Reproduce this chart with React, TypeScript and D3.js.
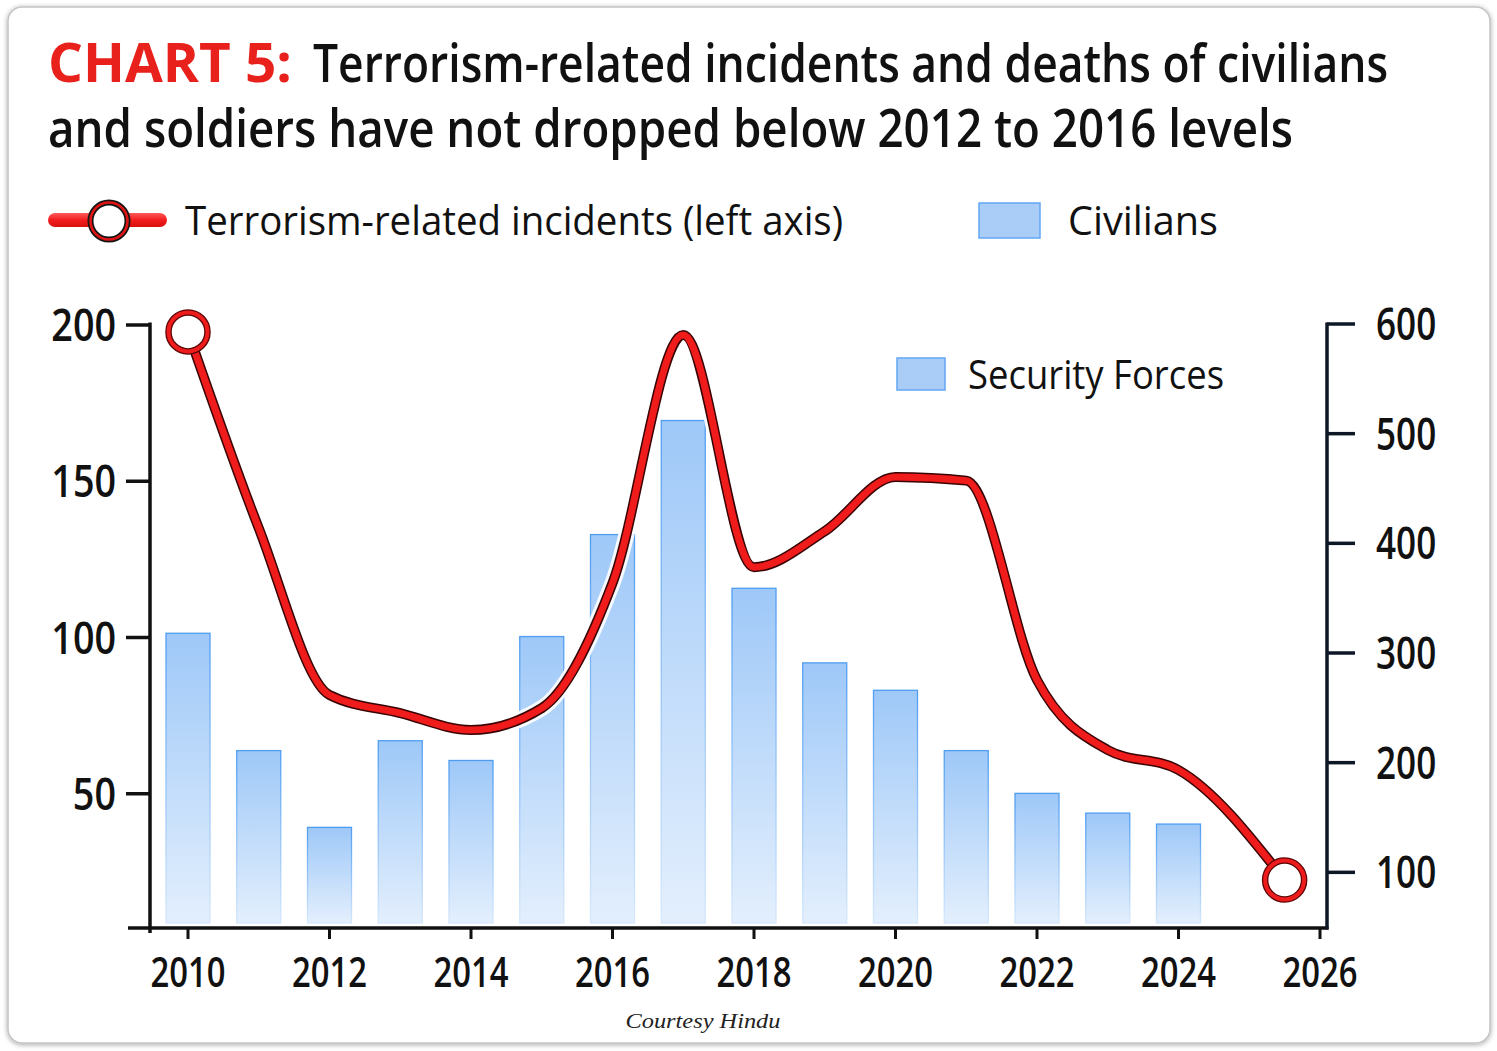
import React, { useEffect } from 'react';
import * as d3 from 'd3';

// ---------- data ----------
const barYears = [2010, 2011, 2012, 2013, 2014, 2015, 2016, 2017, 2018, 2019, 2020, 2021, 2022, 2023, 2024];
const deaths = [318, 211, 141, 220, 202, 315, 408, 512, 359, 291, 266, 211, 172, 154, 144];
const lineYears = [2010, 2011, 2012, 2013, 2014, 2015, 2016, 2017, 2018, 2019, 2020, 2021, 2022, 2023, 2024, 2025.5];
const incidents = [197.8, 135, 81.6, 75.8, 70.4, 77.4, 117.4, 196.8, 122.5, 134, 151.4, 150.2, 86.4, 64, 57.6, 22.4];
const leftTicks = [50, 100, 150, 200];
const rightTicks = [100, 200, 300, 400, 500, 600];
const xTicks = [2010, 2012, 2014, 2016, 2018, 2020, 2022, 2024, 2026];

const titleLead = 'CHART 5:';
const titleRest1 = 'Terrorism-related incidents and deaths of civilians';
const titleLine2 = 'and soldiers have not dropped below 2012 to 2016 levels';
const legendLine = 'Terrorism-related incidents (left axis)';
const legendCiv = 'Civilians';
const legendSec = 'Security Forces';
const credit = 'Courtesy Hindu';

// ---------- layout ----------
const W = 1497;
const H = 1051;
const axisLeftX = 150;
const axisRightX = 1327;
const plotTop = 324;
const axisY = 928;
const barBottom = 923;
const barW = 44;
const FONT = '"Open Sans", "Noto Sans", sans-serif';

const x = d3.scaleLinear().domain([2010, 2026]).range([188, 1320]);
const yL = d3.scaleLinear().domain([0, 200]).range([950, 325]);
const yR = d3.scaleLinear().domain([0, 600]).range([982, 324]);

const CText = ({ x, y, anchor = 'start', size, sx = 1, weight = 500, fill = '#111', children }: any) => (
  <text
    transform={`translate(${x},${y}) scale(${sx},1)`}
    textAnchor={anchor}
    fontSize={size}
    fontWeight={weight}
    fill={fill}
    fontFamily={FONT}
  >
    {children}
  </text>
);

export default function App() {
  useEffect(() => {
    document.body.style.margin = '0';
  }, []);

  const pts = lineYears.map((yr, i) => [x(yr), yL(incidents[i])] as [number, number]);
  const lineGen = d3.line().curve(d3.curveMonotoneX);
  const d = lineGen(pts) || '';
  const first = pts[0];
  const last = pts[pts.length - 1];

  return (
    <svg width={W} height={H} style={{ position: 'absolute', left: 0, top: 0, display: 'block' }}>
      <defs>
        <linearGradient id="barFill" x1="0" y1="0" x2="0" y2="1">
          <stop offset="0%" stopColor="#9ec8f8" />
          <stop offset="100%" stopColor="#e3effd" />
        </linearGradient>
        <linearGradient id="barStroke" x1="0" y1="0" x2="0" y2="1">
          <stop offset="0%" stopColor="#4f9df1" />
          <stop offset="100%" stopColor="#d6e8fc" />
        </linearGradient>
        <linearGradient id="legRed" x1="0" y1="0" x2="0" y2="1">
          <stop offset="0%" stopColor="#ff5a5a" />
          <stop offset="50%" stopColor="#f21d1d" />
          <stop offset="100%" stopColor="#d81010" />
        </linearGradient>
        <filter id="shadow" x="-5%" y="-5%" width="110%" height="110%">
          <feDropShadow dx="0" dy="1" stdDeviation="2.5" floodColor="#000" floodOpacity="0.35" />
        </filter>
      </defs>

      <rect x={0} y={0} width={W} height={H} fill="#fff" />
      <rect x={8} y={7} width={1482} height={1036} rx={14} fill="#fff" stroke="#c4c4c4" strokeWidth={1.5} filter="url(#shadow)" />

      {/* title */}
      <text x={48} y={82} fontSize={53} fontWeight={700} fill="#e8211d" fontFamily={FONT} textLength={244} lengthAdjust="spacingAndGlyphs">
        {titleLead}
      </text>
      <text x={313} y={82} fontSize={53} fontWeight={600} fill="#111" fontFamily={FONT} textLength={1075} lengthAdjust="spacingAndGlyphs">
        {titleRest1}
      </text>
      <text x={48} y={147} fontSize={53} fontWeight={600} fill="#111" fontFamily={FONT} textLength={1245} lengthAdjust="spacingAndGlyphs">
        {titleLine2}
      </text>

      {/* legend: line */}
      <rect x={48} y={213} width={119} height={14} rx={7} fill="url(#legRed)" />
      <circle cx={109} cy={221} r={18.5} fill="#fff" stroke="#151515" strokeWidth={6} />
      <circle cx={109} cy={221} r={18.5} fill="none" stroke="#e01414" strokeWidth={2.6} />
      <text x={185} y={235} fontSize={41} fontWeight={500} fill="#111" fontFamily={FONT} textLength={658} lengthAdjust="spacingAndGlyphs">
        {legendLine}
      </text>

      {/* legend: civilians */}
      <rect x={979} y={203} width={61} height={35} fill="#aacdf8" stroke="#62a6f2" strokeWidth={1.5} />
      <text x={1068} y={235} fontSize={41} fontWeight={500} fill="#111" fontFamily={FONT} textLength={150} lengthAdjust="spacingAndGlyphs">
        {legendCiv}
      </text>

      {/* legend: security forces */}
      <rect x={897} y={358} width={48} height={32} fill="#aacdf8" stroke="#62a6f2" strokeWidth={1.5} />
      <text x={968} y={389} fontSize={41} fontWeight={500} fill="#111" fontFamily={FONT} textLength={256} lengthAdjust="spacingAndGlyphs">
        {legendSec}
      </text>

      {/* bars */}
      {barYears.map((yr, i) => {
        const top = yR(deaths[i]);
        return (
          <rect
            key={yr}
            x={x(yr) - barW / 2}
            y={top}
            width={barW}
            height={barBottom - top}
            fill="url(#barFill)"
            stroke="url(#barStroke)"
            strokeWidth={1.3}
          />
        );
      })}

      {/* axes */}
      <line x1={128} x2={axisRightX + 1.5} y1={axisY} y2={axisY} stroke="#111" strokeWidth={3.5} />
      <line x1={axisLeftX} x2={axisLeftX} y1={plotTop - 1.5} y2={axisY + 5} stroke="#111" strokeWidth={3.5} />
      <line x1={axisRightX} x2={axisRightX} y1={plotTop - 1.5} y2={axisY + 1.5} stroke="#0e1726" strokeWidth={3.5} />

      {leftTicks.map((t) => (
        <g key={`l${t}`}>
          <line x1={126} x2={axisLeftX} y1={yL(t)} y2={yL(t)} stroke="#111" strokeWidth={3.5} />
          <CText x={116} y={yL(t) + 16} anchor="end" size={46} sx={0.82} weight={600}>
            {t}
          </CText>
        </g>
      ))}

      {rightTicks.map((t) => (
        <g key={`r${t}`}>
          <line x1={axisRightX} x2={1355} y1={yR(t)} y2={yR(t)} stroke="#0e1726" strokeWidth={3.5} />
          <CText x={1376} y={yR(t) + 16} anchor="start" size={45} sx={0.78} weight={600}>
            {t}
          </CText>
        </g>
      ))}

      {xTicks.map((t) => (
        <g key={`x${t}`}>
          <line x1={x(t)} x2={x(t)} y1={axisY} y2={axisY + 11} stroke="#111" strokeWidth={3} />
          <CText x={x(t)} y={987} anchor="middle" size={41} sx={0.8} weight={600}>
            {t}
          </CText>
        </g>
      ))}

      {/* line */}
      <path d={d} fill="none" stroke="#fff" strokeOpacity={0.9} strokeWidth={16} strokeLinejoin="round" strokeLinecap="round" />
      <path d={d} fill="none" stroke="#3a0303" strokeWidth={10} strokeLinejoin="round" strokeLinecap="round" />
      <path d={d} fill="none" stroke="#f01c1c" strokeWidth={7} strokeLinejoin="round" strokeLinecap="round" />

      {[first, last].map((p, i) => (
        <g key={`m${i}`}>
          <circle cx={p[0]} cy={p[1]} r={19.5} fill="#fff" stroke="#5a0505" strokeWidth={6.5} />
          <circle cx={p[0]} cy={p[1]} r={19.5} fill="none" stroke="#ee1c1c" strokeWidth={4} />
        </g>
      ))}

      {/* credit */}
      <text
        x={703}
        y={1028}
        textAnchor="middle"
        fontSize={22}
        fontStyle="italic"
        fill="#222"
        fontFamily='"Liberation Serif", "DejaVu Serif", serif'
        textLength={155}
        lengthAdjust="spacingAndGlyphs"
      >
        {credit}
      </text>
    </svg>
  );
}
